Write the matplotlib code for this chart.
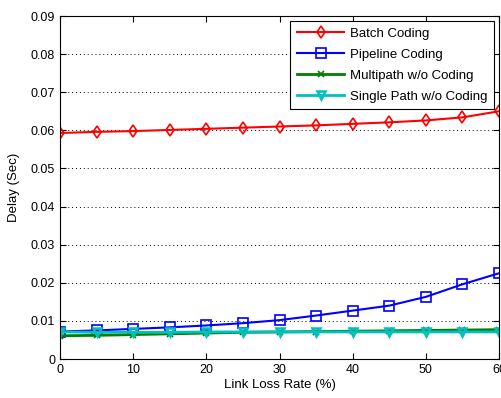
import matplotlib
matplotlib.use("Agg")
import matplotlib.pyplot as plt

loss_rate = [0, 5, 10, 15, 20, 25, 30, 35, 40, 45, 50, 55, 60]
batch = [0.0593, 0.0596, 0.0598, 0.0601, 0.0604, 0.0607, 0.0610, 0.0613, 0.0617, 0.0621, 0.0626, 0.0634, 0.0650]
pipeline = [0.0072, 0.0075, 0.0079, 0.0083, 0.0088, 0.0094, 0.0102, 0.0114, 0.0127, 0.0140, 0.0163, 0.0196, 0.0225]
multipath = [0.0061, 0.0062, 0.0064, 0.0066, 0.0068, 0.0070, 0.0071, 0.0072, 0.0073, 0.0074, 0.0075, 0.0076, 0.0077]
single_path = [0.0071, 0.0070, 0.0070, 0.0070, 0.0071, 0.0071, 0.0071, 0.0071, 0.0071, 0.0071, 0.0071, 0.0071, 0.0071]

plt.rcParams["font.family"] = ["Liberation Sans", "DejaVu Sans"]
plt.rcParams["font.size"] = 9

fig = plt.figure(figsize=(5.01, 3.98), dpi=100)
ax = fig.add_axes([60 / 501, 39 / 398, 439 / 501, 343 / 398])

ax.plot(loss_rate, batch, color="red", lw=1.5, marker="d", ms=6, mfc="none", mew=1.2, label="Batch Coding")
ax.plot(loss_rate, pipeline, color="blue", lw=1.5, marker="s", ms=7, mfc="none", mew=1.2, label="Pipeline Coding")
ax.plot(loss_rate, multipath, color="green", lw=2, marker="x", ms=4, mew=1.2, label="Multipath w/o Coding")
ax.plot(loss_rate, single_path, color="#00c0c0", lw=2, marker="v", ms=6, mfc="none", mew=1.8, label="Single Path w/o Coding")

ax.set_xlim(0, 60)
ax.set_ylim(0, 0.09)
ax.set_xticks(range(0, 61, 10))
ax.set_yticks([i / 100 for i in range(10)])
ax.set_yticklabels(["0"] + [f"{i / 100:.2f}" for i in range(1, 10)])
ax.grid(axis="y", color="black", linestyle=(0, (1, 3)), lw=0.7)
ax.tick_params(direction="in", top=True, right=True, length=4, color="black", labelsize=9)
ax.set_xlabel("Link Loss Rate (%)", labelpad=2, fontsize=9.5)
ax.set_ylabel("Delay (Sec)", fontsize=9.5, labelpad=8)

leg = ax.legend(loc="upper right", fancybox=False, edgecolor="black", framealpha=1,
                borderaxespad=0.4, handlelength=3.6, labelspacing=0.65, fontsize=9.5,
                borderpad=0.5, handletextpad=0.4)
leg.get_frame().set_linewidth(0.8)

fig.savefig("out.png", dpi=100)
